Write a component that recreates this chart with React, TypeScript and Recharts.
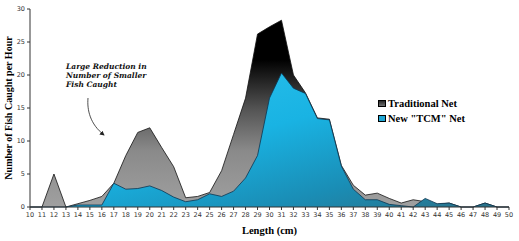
import React from "react";
import { AreaChart, Area, XAxis, YAxis } from "recharts";

document.body.style.margin = "0";

const lengths = [
  10, 11, 12, 13, 14, 15, 16, 17, 18, 19, 20, 21, 22, 23, 24, 25, 26, 27, 28,
  29, 30, 31, 32, 33, 34, 35, 36, 37, 38, 39, 40, 41, 42, 43, 44, 45, 46, 47,
  48, 49, 50,
];

const traditionalNet = [
  0, 0, 5, 0, 0.5, 1.0, 1.6, 3.6, 7.8, 11.3, 12, 9, 6.1, 1.4, 1.6, 2.2, 5.5,
  11, 16.5, 26.2, 27.3, 28.3, 20, 17.3, 13.5, 13.3, 6.3, 3.3, 1.8, 2.1, 1.3,
  0.6, 1.1, 0.8, 0.4, 0.6, 0, 0, 0.6, 0, 0,
];

const tcmNet = [
  0, 0, 0, 0, 0.3, 0.3, 0.3, 3.6, 2.7, 2.8, 3.2, 2.5, 1.5, 0.8, 1.1, 2.0, 1.6,
  2.4, 4.4, 7.8, 16.5, 20.3, 18, 17.2, 13.4, 13.2, 6.2, 2.7, 1.1, 1.1, 0.4,
  0.2, 0, 1.3, 0.5, 0.6, 0, 0, 0.6, 0, 0,
];

const yTicks = [0, 5, 10, 15, 20, 25, 30];

const chartData = lengths.map((length, i) => ({
  length,
  traditional: traditionalNet[i],
  tcm: tcmNet[i],
}));

const serif = "'Liberation Serif', 'Times New Roman', serif";
const tickFont = { fontSize: 6.5, fill: "#333", fontFamily: "'DejaVu Sans', sans-serif" };

function LegendBox() {
  const row = (label: string, fill: string) => (
    <div style={{ display: "flex", alignItems: "center", height: 15 }}>
      <svg width={8} height={7} style={{ marginRight: 2 }}>
        <rect x={0.5} y={0.5} width={7} height={6} fill={fill} stroke="#000" strokeWidth={1} />
      </svg>
      <span
        style={{
          fontFamily: serif,
          fontWeight: "bold",
          fontSize: 10.5,
          color: "#000",
          whiteSpace: "nowrap",
        }}
      >
        {label}
      </span>
    </div>
  );
  return (
    <div style={{ position: "absolute", left: 378, top: 96 }}>
      {row("Traditional Net", "url(#legendGray)")}
      {row('New "TCM" Net', "#1fa6d4")}
    </div>
  );
}

export default function App() {
  return (
    <div style={{ position: "relative", width: 519, height: 241, background: "#fff" }}>
      <svg width={0} height={0} style={{ position: "absolute" }}>
        <defs>
          <linearGradient id="legendGray" x1="0" y1="0" x2="0" y2="1">
            <stop offset="0" stopColor="#222" />
            <stop offset="1" stopColor="#777" />
          </linearGradient>
        </defs>
      </svg>
      <AreaChart
        width={519}
        height={241}
        data={chartData}
        margin={{ top: 9, right: 10, left: 0, bottom: 0 }}
      >
        <defs>
          <linearGradient id="grayFill" x1="0" y1="0" x2="0" y2="1">
            <stop offset="0" stopColor="#000" />
            <stop offset="0.21" stopColor="#000" />
            <stop offset="0.48" stopColor="#555" />
            <stop offset="0.7" stopColor="#8a8a8a" />
            <stop offset="1" stopColor="#a0a0a0" />
          </linearGradient>
          <linearGradient id="blueFill" x1="0" y1="0" x2="1" y2="1">
            <stop offset="0" stopColor="#2ec4ee" />
            <stop offset="0.45" stopColor="#19b3e3" />
            <stop offset="0.75" stopColor="#1a8db5" />
            <stop offset="1" stopColor="#2b6f85" />
          </linearGradient>
        </defs>
        <XAxis
          dataKey="length"
          type="number"
          domain={[10, 50]}
          ticks={lengths}
          interval={0}
          height={34}
          tick={tickFont}
          tickSize={3}
          tickMargin={2}
          axisLine={{ stroke: "#333" }}
          tickLine={{ stroke: "#333" }}
          label={{
            value: "Length (cm)",
            position: "insideBottom",
            offset: 7,
            style: { fontFamily: serif, fontWeight: "bold", fontSize: 10.5, fill: "#000" },
          }}
        />
        <YAxis
          domain={[0, 30]}
          ticks={yTicks}
          width={30}
          tick={tickFont}
          tickSize={3}
          tickMargin={2}
          axisLine={{ stroke: "#333" }}
          tickLine={{ stroke: "#333" }}
        />
        <Area
          type="linear"
          dataKey="traditional"
          name="Traditional Net"
          fill="url(#grayFill)"
          fillOpacity={1}
          stroke="#111"
          strokeWidth={0.8}
          isAnimationActive={false}
        />
        <Area
          type="linear"
          dataKey="tcm"
          name='New "TCM" Net'
          fill="url(#blueFill)"
          fillOpacity={1}
          stroke="#0b3550"
          strokeWidth={0.8}
          isAnimationActive={false}
        />
      </AreaChart>
      <LegendBox />
      <svg
        width={519}
        height={241}
        style={{ position: "absolute", left: 0, top: 0, pointerEvents: "none" }}
      >
        <defs>
          <marker id="arrowHead" markerWidth="6" markerHeight="6" refX="5" refY="3" orient="auto">
            <path d="M0,0 L6,3 L0,6 Z" fill="#222" />
          </marker>
        </defs>
        <text
          transform="translate(12,108) rotate(-90)"
          textAnchor="middle"
          fontFamily={serif}
          fontWeight="bold"
          fontSize={10}
          fill="#000"
        >
          Number of Fish Caught per Hour
        </text>
        <g
          fontFamily="'DejaVu Serif', serif"
          fontStyle="italic"
          fontWeight="bold"
          fontSize={7.5}
          fill="#111"
        >
          <text x={66} y={69}>Large Reduction in</text>
          <text x={66} y={78}>Number of Smaller</text>
          <text x={66} y={87}>Fish Caught</text>
        </g>
        <path
          d="M88,98 C87,110 90,124 104,135"
          fill="none"
          stroke="#222"
          strokeWidth={0.8}
          markerEnd="url(#arrowHead)"
        />
      </svg>
    </div>
  );
}
